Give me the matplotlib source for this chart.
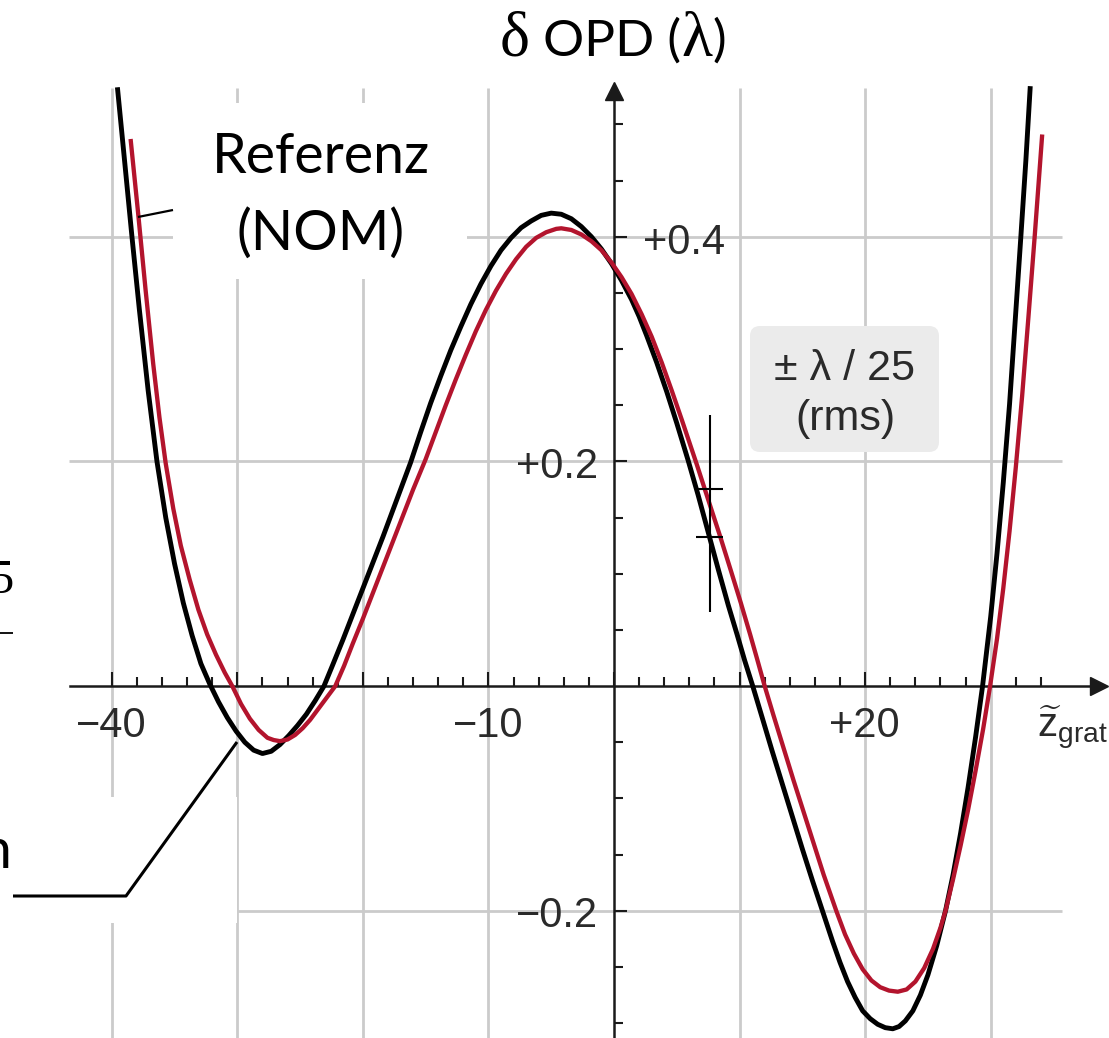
import matplotlib
matplotlib.use("Agg")
import matplotlib.pyplot as plt
from matplotlib.patches import Rectangle, FancyBboxPatch
from matplotlib.lines import Line2D

# values
# black curve: reference design (NOM)
z_ref = [-39.55, -39.0, -38.4, -37.8, -37.1, -36.4, -35.7, -35.0, -34.3, -33.6,
         -32.9, -32.2, -31.5, -30.8, -30.1, -29.4, -28.7, -28.0, -27.3, -26.6,
         -25.9, -25.2, -24.5, -23.8, -23.1, -22.4, -21.6, -20.8, -20.0, -19.2,
         -18.4, -17.6, -16.9, -16.2, -15.4, -14.6, -13.8, -13.0, -12.2, -11.4,
         -10.6, -9.8, -9.0, -8.2, -7.4, -6.6, -5.8, -5.0, -4.2, -3.4,
         -2.6, -1.8, -1.0, -0.2, 0.6, 1.4, 2.0, 2.6, 3.4, 4.2,
         5.0, 5.9, 6.7, 7.5, 8.3, 9.1, 9.8, 10.4, 11.05, 11.8,
         12.6, 13.4, 14.2, 15.0, 15.8, 16.6, 17.4, 18.0, 18.6, 19.2,
         19.8, 20.4, 21.0, 21.6, 22.2, 22.7, 23.2, 23.8, 24.4, 25.0,
         25.7, 26.4, 27.0, 27.6, 28.2, 28.8, 29.35, 30.0, 30.5, 31.0,
         31.5, 31.93, 32.4, 32.8, 33.15]
opd_ref = [0.533, 0.470, 0.401, 0.335, 0.263, 0.200, 0.150, 0.109, 0.074, 0.045,
           0.020, 0.002, -0.014, -0.028, -0.040, -0.050, -0.057, -0.060, -0.058, -0.052,
           -0.044, -0.035, -0.025, -0.013, 0.000, 0.019, 0.041, 0.064, 0.087, 0.110,
           0.133, 0.157, 0.178, 0.199, 0.226, 0.252, 0.276, 0.299, 0.320, 0.340,
           0.358, 0.374, 0.388, 0.399, 0.408, 0.414, 0.419, 0.421, 0.420, 0.416,
           0.409, 0.400, 0.389, 0.376, 0.361, 0.344, 0.329, 0.312, 0.288, 0.262,
           0.234, 0.201, 0.170, 0.137, 0.104, 0.072, 0.046, 0.023, 0.000, -0.028,
           -0.058, -0.087, -0.116, -0.145, -0.173, -0.200, -0.227, -0.246, -0.263, -0.277,
           -0.289, -0.296, -0.301, -0.304, -0.305, -0.303, -0.298, -0.289, -0.275, -0.257,
           -0.231, -0.200, -0.168, -0.131, -0.090, -0.045, 0.000, 0.062, 0.118, 0.181,
           0.251, 0.322, 0.400, 0.468, 0.534]

# red curve
z_meas = [-38.5, -37.9, -37.3, -36.7, -36.2, -35.7, -35.1, -34.5, -33.8, -33.1,
          -32.4, -31.7, -31.0, -30.4, -29.7, -29.0, -28.3, -27.6, -27.1, -26.6,
          -26.0, -25.4, -24.8, -24.2, -23.6, -22.9, -22.2, -21.5, -20.8, -20.0,
          -19.2, -18.4, -17.6, -16.8, -16.0, -15.0, -14.2, -13.4, -12.6, -11.8,
          -11.0, -10.2, -9.4, -8.6, -7.8, -7.0, -6.2, -5.4, -4.6, -4.2,
          -3.4, -2.6, -1.8, -1.0, -0.2, 0.6, 1.4, 2.2, 3.0, 3.8,
          4.6, 5.4, 6.0, 6.6, 7.5, 8.46, 9.3, 10.1, 10.84, 11.4,
          12.0, 12.7, 13.5, 14.3, 15.1, 15.9, 16.7, 17.7, 18.4, 19.1,
          19.8, 20.5, 21.2, 21.9, 22.6, 23.3, 24.0, 24.7, 25.4, 26.0,
          26.4, 27.0, 27.6, 28.2, 28.8, 29.4, 29.95, 30.5, 31.0, 31.5,
          32.0, 32.5, 33.0, 33.5, 34.1]
opd_meas = [0.487, 0.421, 0.352, 0.287, 0.239, 0.198, 0.158, 0.125, 0.095, 0.068,
            0.046, 0.028, 0.012, 0.000, -0.016, -0.029, -0.039, -0.046, -0.048, -0.049,
            -0.0475, -0.0435, -0.0375, -0.030, -0.021, -0.0105, 0.000, 0.018, 0.038, 0.060,
            0.083, 0.106, 0.129, 0.152, 0.175, 0.202, 0.226, 0.250, 0.273, 0.295,
            0.316, 0.335, 0.352, 0.367, 0.380, 0.391, 0.399, 0.404, 0.407, 0.4075,
            0.406, 0.402, 0.396, 0.388, 0.377, 0.364, 0.349, 0.331, 0.311, 0.288,
            0.263, 0.237, 0.217, 0.197, 0.166, 0.133, 0.103, 0.074, 0.046, 0.024,
            0.000, -0.026, -0.055, -0.084, -0.112, -0.140, -0.168, -0.200, -0.221, -0.238,
            -0.252, -0.262, -0.268, -0.271, -0.272, -0.270, -0.263, -0.251, -0.234, -0.215,
            -0.200, -0.172, -0.142, -0.110, -0.075, -0.038, 0.000, 0.042, 0.087, 0.138,
            0.195, 0.258, 0.328, 0.400, 0.491]

grid_z = [-40, -30, -20, -10, 10, 20, 30]
grid_opd = [-0.2, 0.2, 0.4]
z_major = [-40, -30, -20, -10, 0, 10, 20, 30]
z_minor = [v for v in range(-38, 35, 2) if v % 10 != 0]
opd_major = [-0.2, 0.2, 0.4]
opd_minor = [-0.3, -0.25, -0.15, -0.1, -0.05, 0.05, 0.1, 0.15, 0.25, 0.3, 0.35, 0.45, 0.5]

W, H = 1109, 1038
fig = plt.figure(figsize=(W / 100, H / 100), dpi=100)
ax = fig.add_axes([0, 0, 1, 1])
ax.set_xlim(-48.90, 39.42)
ax.set_ylim(-0.3132, 0.6107)
ax.patch.set_visible(False)

def fx(px):
    return px / W

def fy(py):
    return 1 - py / H

def line(pts, lw=2.0, color="black"):
    xs = [fx(p[0]) for p in pts]
    ys = [fy(p[1]) for p in pts]
    fig.add_artist(Line2D(xs, ys, lw=lw, color=color, zorder=6,
                          solid_capstyle="butt"))

def label(px, py, s, ha="center", **kw):
    return fig.text(fx(px), fy(py), s, ha=ha, va="baseline", **kw)

# grid
gc = "#cbcbcb"
ax.vlines(grid_z, -0.3132, 0.532, colors=gc, lw=2.0, zorder=0.5)
ax.hlines(grid_opd, -43.4, 35.7, colors=gc, lw=2.0, zorder=0.5)

# white masks from the original layout
for x0, y0, x1, y1 in [(173, 103, 467, 279), (0, 797, 237, 923)]:
    ax.add_patch(Rectangle((fx(x0), fy(y1)), (x1 - x0) / W, (y1 - y0) / H,
                           transform=fig.transFigure, fc="white", ec="none", zorder=1))

# axes through the origin
ac = "#1a1a1a"
for s in ["top", "right"]:
    ax.spines[s].set_visible(False)
ax.spines["left"].set_position(("data", 0))
ax.spines["bottom"].set_position(("data", 0))
ax.spines["bottom"].set_bounds(-43.3, 38.2)
ax.spines["left"].set_bounds(-0.3132, 0.525)
for s in ["left", "bottom"]:
    ax.spines[s].set_linewidth(1.8)
    ax.spines[s].set_color(ac)
    ax.spines[s].set_zorder(3)
ax.plot([38.62], [0], marker=">", ms=13, color=ac, clip_on=False, zorder=3)
ax.plot([0], [0.5297], marker="^", ms=13, color=ac, clip_on=False, zorder=3)

ax.set_xticks(z_major)
ax.set_xticks(z_minor, minor=True)
ax.set_yticks(opd_major)
ax.set_yticks(opd_minor, minor=True)
ax.tick_params(which="both", direction="in", color=ac, width=1.5,
               labelbottom=False, labelleft=False)
ax.tick_params(axis="x", which="major", length=10)
ax.tick_params(axis="x", which="minor", length=6.5)
ax.tick_params(axis="y", which="major", length=9)
ax.tick_params(axis="y", which="minor", length=6.5)

# curves
ax.plot(z_ref, opd_ref, color="black", lw=3.5, zorder=4,
        solid_capstyle="butt", solid_joinstyle="round")
ax.plot(z_meas, opd_meas, color="#b3142d", lw=3.1, zorder=4,
        solid_capstyle="butt", solid_joinstyle="round")

# tick labels
tk = dict(fontsize=30, family="Liberation Sans", color="#2a2a2a")
label(111, 737, "\u221240", **tk)
label(488, 737, "\u221210", **tk)
label(864, 737, "+20", **tk)
label(643, 254, "+0.4", ha="left", **tk)
label(598, 478, "+0.2", ha="right", **tk)
label(598, 927, "\u22120.2", ha="right", **tk)

plt.rcParams["mathtext.fontset"] = "custom"
plt.rcParams["mathtext.rm"] = "Liberation Sans"
plt.rcParams["mathtext.it"] = "Liberation Sans"
label(1037, 737, r"$\widetilde{\mathrm{z}}_{\mathrm{grat}}$", ha="left",
      fontsize=29, color="#2a2a2a")

# title made of pieces in two fonts
renderer = fig.canvas.get_renderer()
pieces = [("\u03b4", dict(family="Liberation Serif", fontsize=46)),
          (" OPD (", dict(family="Lato", fontsize=37)),
          ("\u03bb", dict(family="Liberation Serif", fontsize=46)),
          (")", dict(family="Lato", fontsize=37))]
texts = [label(0, 56, s, ha="left", color="black", **kw) for s, kw in pieces]
widths = [t.get_window_extent(renderer).width for t in texts]
x = 613 - sum(widths) / 2
for t, w in zip(texts, widths):
    t.set_x(fx(x))
    x += w

# annotations
label(321, 173, "Referenz", family="Lato", fontsize=40)
label(321, 250, "(NOM)", family="Lato", fontsize=40)
line([(138, 217), (173, 210)], lw=1.6)

box = FancyBboxPatch((fx(750), fy(452)), 189 / W, 126 / H,
                     boxstyle="round,pad=0,rounding_size=0.009",
                     mutation_aspect=W / H, transform=fig.transFigure,
                     fc="#ebebeb", ec="none", zorder=2)
fig.add_artist(box)
rms = dict(family="Liberation Sans", fontsize=31, color="#2a2a2a")
label(845, 380, "\u00b1 \u03bb / 25", **rms)
label(845, 430, "(rms)", **rms)

line([(710, 415), (710, 612)], lw=1.5)
line([(698, 489), (723, 489)], lw=1.5)
line([(696, 537), (723, 537)], lw=1.5)

# cut-off pieces of neighbouring figure content (cropped in the original too)
label(13, 593, "5", ha="right", family="Liberation Serif", fontsize=35)
line([(0, 633), (13, 633)], lw=1.3)
label(11, 868, "n", ha="right", family="Lato", fontsize=40)
line([(13, 896), (126, 896), (237, 742)], lw=2.2)

fig.savefig("out.png", dpi=100)
